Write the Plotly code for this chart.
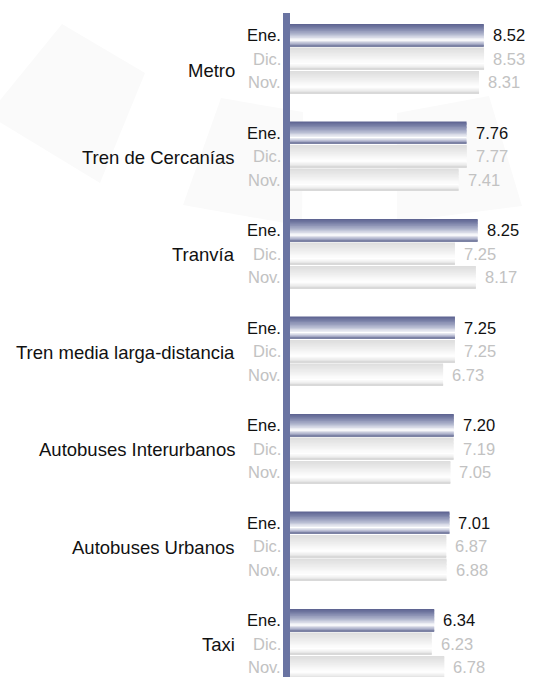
import plotly.graph_objects as go

# ---------------- data ----------------
categories = ["Metro", "Tren de Cercanías", "Tranvía", "Tren media larga-distancia",
              "Autobuses Interurbanos", "Autobuses Urbanos", "Taxi"]
series_labels = ["Ene.", "Dic.", "Nov."]
ene = [8.52, 7.76, 8.25, 7.25, 7.20, 7.01, 6.34]
dic = [8.53, 7.77, 7.25, 7.25, 7.19, 6.87, 6.23]
nov = [8.31, 7.41, 8.17, 6.73, 7.05, 6.88, 6.78]

# ---------------- styling / geometry ----------------
W, H = 533, 677
M_L, M_R, M_T, M_B = 283, 0, 13, 0
PLOT_W = W - M_L - M_R
PLOT_H = H - M_T - M_B
PX_PER_UNIT = 22.75          # horizontal scale
AXIS_PX = 7                  # width of the thick left axis bar
X_MIN = -AXIS_PX / PX_PER_UNIT
X_MAX = X_MIN + PLOT_W / PX_PER_UNIT

GROUP_PX = 97.5
SUB = 23.5 / GROUP_PX
BARW = 22.6 / GROUP_PX
Y_TOP = -(35.2 - M_T) / GROUP_PX
Y_BOT = Y_TOP + PLOT_H / GROUP_PX
LABEL_YSHIFT_PX = [-11, 0, 0, 0, 0, 0, 0]   # category label vertical nudge (px)

AXIS_COLOR = "#6a74a2"
FONT = "Liberation Sans, Arial, sans-serif"
DARK_TXT = "#111111"
GRAY_TXT = "#c2c2c2"

ene_stops = [(0.0, (0x5a, 0x60, 0x8e)), (0.2, (0x7c, 0x83, 0xa9)), (0.45, (0xb0, 0xb5, 0xcd)),
             (0.62, (0xe0, 0xe2, 0xec)), (0.72, (0xff, 0xff, 0xff)), (0.86, (0xb4, 0xb8, 0xd0)),
             (1.0, (0x6c, 0x73, 0x98))]
gray_stops = [(0.0, (0xdc, 0xdc, 0xdc)), (0.3, (0xeb, 0xeb, 0xeb)), (0.6, (0xfa, 0xfa, 0xfa)),
              (0.72, (0xff, 0xff, 0xff)), (0.88, (0xea, 0xea, 0xea)), (1.0, (0xd3, 0xd3, 0xd3))]


def grad_color(stops, t):
    for (t0, c0), (t1, c1) in zip(stops[:-1], stops[1:]):
        if t0 <= t <= t1:
            f = (t - t0) / (t1 - t0) if t1 > t0 else 0
            c = [round(a + (b - a) * f) for a, b in zip(c0, c1)]
            return "rgb(%d,%d,%d)" % tuple(c)
    return "rgb(%d,%d,%d)" % stops[-1][1]


series = [(ene, ene_stops, DARK_TXT), (dic, gray_stops, GRAY_TXT), (nov, gray_stops, GRAY_TXT)]
N_STRIPES = 16

fig = go.Figure()
annotations = []

for k, (vals, stops, tcol) in enumerate(series):
    ypos = [g + k * SUB for g in range(len(categories))]
    step = BARW / N_STRIPES
    for j in range(N_STRIPES):
        t = (j + 0.5) / N_STRIPES
        off = -BARW / 2 + j * step
        w = min(step * 1.6, BARW / 2 - off)
        fig.add_trace(go.Bar(
            x=vals, y=ypos, orientation="h", offset=off, width=w,
            marker=dict(color=grad_color(stops, t), line=dict(width=0)),
            hoverinfo="skip", showlegend=False))
    for v, yy in zip(vals, ypos):
        annotations.append(dict(x=v, y=yy, xref="x", yref="y", text=f"{v:.2f}",
                                xanchor="left", yanchor="middle", xshift=7, showarrow=False,
                                font=dict(family=FONT, size=16.5, color=tcol)))
        annotations.append(dict(x=0, y=yy, xref="x", yref="y", text=series_labels[k],
                                xanchor="right", yanchor="middle", xshift=-AXIS_PX,
                                showarrow=False,
                                font=dict(family=FONT, size=16.5, color=tcol)))

for g, name in enumerate(categories):
    annotations.append(dict(x=0, y=g + SUB * 1.05, xref="x", yref="y", text=name,
                            xanchor="right", yanchor="middle", xshift=-53,
                            yshift=LABEL_YSHIFT_PX[g], showarrow=False,
                            font=dict(family=FONT, size=18.5, color=DARK_TXT)))


def px2paper(px, py):
    return (px - M_L) / PLOT_W, 1 - (py - M_T) / PLOT_H


def poly(points):
    pts = [px2paper(x, y) for x, y in points]
    return "M " + " L ".join(f"{x:.4f},{y:.4f}" for x, y in pts) + " Z"


bg = "#fafafa"
shapes = [
    dict(type="path", xref="paper", yref="paper", layer="below", line=dict(width=0),
         fillcolor=bg, path=poly([(62, 24), (145, 73), (100, 183), (-12, 115)])),
    dict(type="path", xref="paper", yref="paper", layer="below", line=dict(width=0),
         fillcolor=bg, path=poly([(221, 98), (303, 112), (302, 226), (183, 205)])),
    dict(type="path", xref="paper", yref="paper", layer="below", line=dict(width=0),
         fillcolor=bg, path=poly([(397, 113), (489, 96), (522, 206), (397, 222)])),
    # thick vertical axis bar
    dict(type="rect", xref="x", yref="paper", x0=X_MIN, x1=0, y0=0, y1=1,
         fillcolor=AXIS_COLOR, line=dict(width=0), layer="above"),
]

fig.update_layout(
    width=W, height=H,
    margin=dict(l=M_L, r=M_R, t=M_T, b=M_B),
    paper_bgcolor="white", plot_bgcolor="rgba(0,0,0,0)",
    barmode="overlay",
    xaxis=dict(range=[X_MIN, X_MAX], visible=False, fixedrange=True),
    yaxis=dict(range=[Y_BOT, Y_TOP], visible=False, fixedrange=True),
    shapes=shapes,
    annotations=annotations,
    showlegend=False,
)

fig.write_html("out.html", config={"displayModeBar": False},
               post_script="document.body.style.margin='0';document.body.style.overflow='hidden';")
